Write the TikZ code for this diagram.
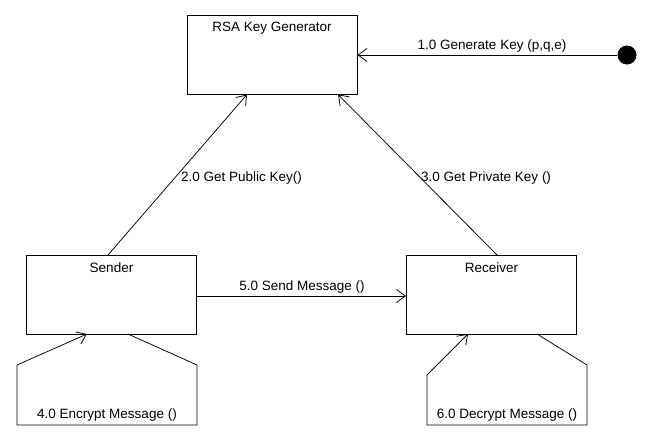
\documentclass[tikz,border=0pt]{standalone}
\usepackage{fontspec}
\setmainfont{Liberation Sans}
\usetikzlibrary{arrows.meta,calc}
\begin{document}
\begin{tikzpicture}[x=1pt,y=-1pt,
  box/.style={draw,line width=0.9pt,rectangle,inner sep=0pt,minimum width=170pt,minimum height=79pt},
  txt/.style={inner sep=0pt,font=\fontsize{13.5}{15}\selectfont},
  conn/.style={line width=0.75pt},
  arr/.style={conn,-{Straight Barb[length=9pt,width=13pt,line width=0.75pt]}}]
\useasboundingbox (0,0) rectangle (659,440);
% boxes
\node[box] (rsa) at (272,54.5) {};
\node[box] (sender) at (111.5,294.5) {};
\node[box] (receiver) at (491.5,294.5) {};
\node[txt] (rsaT) at (272,28) {RSA Key Generator};
\node[txt] (senderT) at (111.5,268) {Sender};
\node[txt] (receiverT) at (491.5,268) {Receiver};
% start dot
\node[circle,fill=black,inner sep=0pt,minimum size=19pt] (start) at (627,55) {};
% 1.0
\draw[arr] (start) -- (rsa.east |- start);
\node[txt] (l1) at (492,46) {1.0 Generate Key (p,q,e)};
% 2.0
\coordinate (s2) at (108,255);
\coordinate (r2) at (247,94.5);
\draw[arr] (s2) -- (r2);
\node[txt,anchor=west] (l2) at (181,178) {2.0 Get Public Key()};
% 3.0
\coordinate (s3) at (497,255);
\coordinate (r3) at (338,94.5);
\draw[arr] (s3) -- (r3);
\node[txt,anchor=west] (l3) at (421,178) {3.0 Get Private Key ()};
% 5.0
\draw[arr] (sender.east |- 0,296) -- (receiver.west |- 0,296);
\node[txt] (l5) at (302,287) {5.0 Send Message ()};
% 4.0 self loop
\coordinate (e1) at (128,334);
\coordinate (e2) at (197,365);
\coordinate (e3) at (197,425);
\coordinate (e4) at (17,425);
\coordinate (e5) at (17,365);
\coordinate (e6) at (87,334);
\draw[conn] (e1) -- (e2) -- (e3) -- (e4) -- (e5);
\draw[arr] (e5) -- (e6);
\node[txt] (l4) at (107,415) {4.0 Encrypt Message ()};
% 6.0 self loop
\coordinate (d1) at (537,334);
\coordinate (d2) at (587,365);
\coordinate (d3) at (587,425);
\coordinate (d4) at (427,425);
\coordinate (d5) at (427,375);
\coordinate (d6) at (468,334);
\draw[conn] (d1) -- (d2) -- (d3) -- (d4) -- (d5);
\draw[arr] (d5) -- (d6);
\node[txt] (l6) at (507,415) {6.0 Decrypt Message ()};
\end{tikzpicture}
\end{document}
